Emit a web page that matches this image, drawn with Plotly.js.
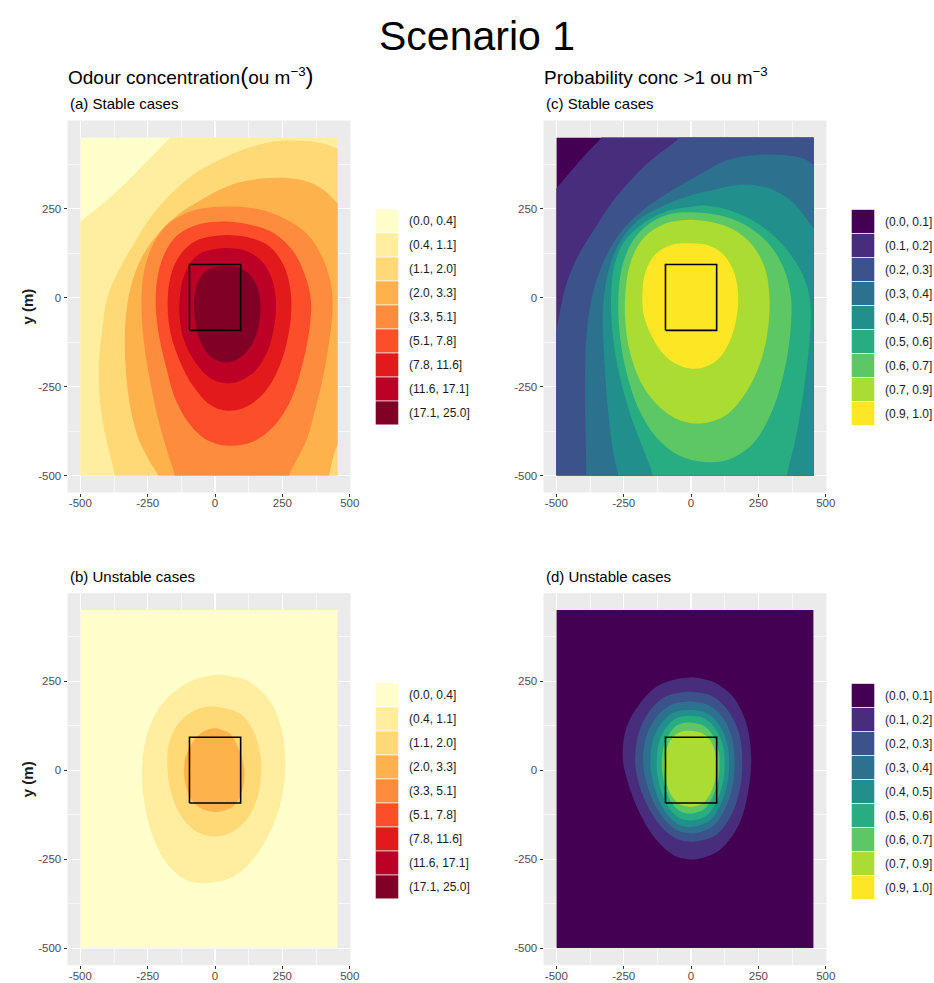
<!DOCTYPE html>
<html>
<head>
<meta charset="utf-8">
<script src="https://cdn.plot.ly/plotly-3.0.1.min.js"></script>
<style>html,body{margin:0;padding:0;background:#fff;}</style>
</head>
<body>
<div id="chart" style="width:934px;height:983px;"></div>
<script>
// ================= DATA =================
const xTicks = [-500, -250, 0, 250, 500];
const yTicks = [-500, -250, 0, 250];
const minorStart = -375, minorStep = 250;
const gridX = [-500, 455];          // extent of the modelled grid (m)
const gridY = [-500, 450];
const sourceX = [-95, 95, 95, -95, -95];   // source area outline (m)
const sourceY = [-92, -92, 93, 93, -92];

const concLabels = ['(0.0, 0.4]', '(0.4, 1.1]', '(1.1, 2.0]', '(2.0, 3.3]', '(3.3, 5.1]',
                    '(5.1, 7.8]', '(7.8, 11.6]', '(11.6, 17.1]', '(17.1, 25.0]'];
const probLabels = ['(0.0, 0.1]', '(0.1, 0.2]', '(0.2, 0.3]', '(0.3, 0.4]', '(0.4, 0.5]',
                    '(0.5, 0.6]', '(0.6, 0.7]', '(0.7, 0.9]', '(0.9, 1.0]'];
const concColors = ['#FFFFCC', '#FFEDA0', '#FED976', '#FEB24C', '#FD8D3C', '#FC4E2A', '#E31A1C', '#BD0026', '#800026'];
const probColors = ['#440154', '#472D7B', '#3B528B', '#2C728E', '#21908C', '#27AD81', '#5DC863', '#AADC32', '#FDE725'];

// (a) odour concentration, stable cases: boundary of each class (superlevel regions), m
const concStableBand = [1, 2, 3, 4, 5, 6, 7, 8];
const concStableX = [
  [-110, -168, -250, -335, -420, -500, -560, -650, -650, 620, 620, -110],
  [-365, -372, -393, -415, -430, -430, -418, -400, -360, -304, -242, -168, -82, 17, 103, 189, 263, 337, 411, 455, 520, 650, 650, -365],
  [-205, -212, -242, -285, -316, -331, -335, -326, -304, -267, -205, -131, -57, 17, 103, 189, 276, 349, 411, 455, 520, 570, 540, 490, 455, 423, 405],
  [-150, -150, -170, -205, -242, -265, -273, -262, -230, -170, -80, 40, 150, 250, 340, 400, 432, 436, 420, 399, 370, 340, 300, 275, 268],
  [40, 130, 220, 290, 335, 356, 348, 320, 280, 220, 140, 47, -30, -100, -150, -180, -205, -220, -215, -190, -140, -60],
  [40, 120, 200, 255, 280, 282, 265, 235, 190, 120, 47, -20, -80, -130, -165, -176, -165, -130, -70],
  [40, 110, 170, 210, 226, 220, 195, 150, 90, 35, -20, -75, -115, -132, -128, -105, -60],
  [30, 90, 135, 162, 168, 155, 120, 70, 20, -25, -58, -76, -76, -60, -25]
];
const concStableY = [
  [500, 450, 385, 320, 262, 213, 172, 100, -650, -650, 620, 620],
  [-560, -500, -433, -358, -264, -170, -86, 0, 73, 148, 223, 288, 345, 387, 415, 434, 441, 440, 431, 418, 395, 380, -650, -650],
  [-560, -500, -461, -395, -301, -208, -114, -21, 54, 120, 185, 237, 272, 303, 326, 335, 335, 324, 298, 265, 230, 0, -300, -390, -414, -500, -560],
  [-560, -500, -450, -360, -231, -120, 0, 80, 150, 210, 245, 256, 250, 225, 180, 110, 30, -40, -140, -231, -320, -400, -460, -500, -560],
  [214, 205, 180, 130, 60, -10, -100, -200, -290, -360, -405, -416, -400, -350, -280, -200, -120, -30, 50, 120, 175, 206],
  [176, 170, 145, 90, 20, -50, -130, -200, -260, -305, -318, -300, -250, -180, -100, -20, 60, 120, 160],
  [139, 132, 105, 55, -10, -80, -150, -205, -235, -240, -225, -180, -120, -50, 20, 80, 122],
  [88, 84, 60, 15, -40, -100, -150, -178, -180, -160, -115, -55, 5, 50, 80]
];
const concStableClosed = [false, false, false, false, true, true, true, true];

// (c) probability conc > 1, stable cases
const probStableBand = [1, 2, 3, 4, 5, 6, 7, 8];
const probStableX = [
  [-300, -334, -380, -420, -460, -500, -560, -650, -650, 620, 620, -300],
  [-20, -45, -100, -168, -230, -291, -340, -389, -425, -451, -470, -482, -492, -500, -510, -650, -650, 620, 620, -20],
  [-389, -389, -393, -393, -390, -374, -350, -310, -255, -180, -90, 30, 130, 230, 313, 412, 455, 520, 650, 650, -389],
  [-272, -272, -285, -309, -322, -328, -322, -303, -265, -200, -110, -20, 67, 190, 289, 375, 455, 520, 650, 650, -272],
  [-143, -143, -170, -220, -265, -290, -297, -285, -250, -185, -100, 0, 60, 180, 290, 375, 425, 443, 440, 420, 390, 356, 350],
  [0, 100, 200, 290, 345, 371, 368, 345, 300, 230, 140, 50, -40, -120, -190, -240, -265, -270, -258, -220, -150, -70],
  [0, 80, 160, 230, 275, 291, 285, 258, 205, 130, 45, -40, -120, -185, -228, -245, -242, -220, -170, -95],
  [-5, 60, 115, 155, 174, 172, 150, 105, 40, -30, -95, -145, -175, -181, -170, -135, -75]
];
const probStableY = [
  [500, 450, 412, 378, 342, 307, 255, 180, -650, -650, 620, 620],
  [520, 450, 415, 373, 325, 270, 215, 157, 110, 64, 20, -20, -60, -95, -140, -300, -650, -650, 620, 620],
  [-560, -494, -311, -217, -124, -20, 50, 125, 190, 245, 292, 345, 385, 400, 401, 392, 373, 340, 300, -650, -650],
  [-560, -493, -451, -311, -170, -60, 10, 85, 155, 215, 255, 282, 300, 317, 307, 270, 195, 140, 80, -650, -650],
  [-560, -500, -440, -340, -220, -110, 0, 90, 155, 205, 240, 255, 258, 235, 185, 115, 45, -20, -120, -250, -390, -500, -560],
  [240, 232, 205, 150, 80, 0, -100, -210, -320, -410, -455, -462, -445, -400, -320, -210, -100, -10, 80, 155, 210, 236],
  [219, 212, 190, 145, 80, 0, -90, -180, -265, -330, -353, -345, -305, -240, -150, -55, 30, 110, 172, 208],
  [153, 148, 125, 80, 20, -40, -110, -170, -198, -195, -165, -110, -50, 10, 70, 120, 148]
];
const probStableClosed = [false, false, false, false, false, true, true, true];

// (b) odour concentration, unstable cases
const concUnstableBand = [1, 2, 3];
const concUnstableX = [
  [4, 115, 202, 245, 261, 251, 214, 140, 66, -33, -107, -180, -236, -264, -271, -255, -205, -107],
  [-2, 91, 140, 167, 171, 158, 115, 54, -8, -70, -125, -162, -177, -168, -125, -57],
  [-2, 54, 84, 105, 109, 97, 66, 17, -33, -76, -104, -115, -109, -82, -45]
];
const concUnstableY = [
  [268, 254, 197, 122, 29, -65, -158, -252, -299, -317, -308, -261, -177, -83, 1, 94, 179, 244],
  [179, 160, 113, 48, -8, -74, -140, -177, -186, -172, -130, -65, 10, 85, 141, 174],
  [118, 104, 66, 20, -18, -65, -102, -116, -113, -93, -55, -8, 38, 80, 108]
];
const concUnstableClosed = [true, true, true];

// (d) probability conc > 1, unstable cases
const probUnstableBand = [1, 2, 3, 4, 5, 6, 7];
const probUnstableX = [
  [-7, 81, 155, 205, 223, 211, 174, 106, 38, -11, -67, -128, -190, -233, -254, -239, -190, -116],
  [-5, 75, 135, 178, 190, 182, 150, 95, 30, -10, -60, -115, -165, -198, -208, -196, -160, -95],
  [-5, 65, 118, 152, 162, 154, 125, 80, 25, -10, -55, -100, -142, -170, -178, -168, -135, -80],
  [-5, 55, 102, 133, 141, 134, 108, 68, 20, -10, -50, -90, -124, -145, -151, -143, -115, -68],
  [-5, 48, 90, 118, 125, 118, 95, 60, 18, -10, -45, -80, -108, -124, -128, -121, -98, -58],
  [-5, 42, 77, 100, 106, 100, 80, 50, 15, -10, -40, -70, -93, -106, -109, -103, -83, -50],
  [-5, 35, 67, 88, 94, 89, 72, 45, 12, -12, -40, -66, -86, -97, -100, -93, -73, -42]
];
const probUnstableY = [
  [261, 249, 207, 132, 38, -65, -158, -224, -247, -250, -238, -196, -121, -37, 38, 122, 188, 240],
  [221, 210, 170, 105, 30, -50, -125, -180, -198, -200, -190, -155, -95, -25, 30, 100, 160, 207],
  [193, 183, 148, 90, 25, -45, -110, -158, -175, -177, -168, -137, -85, -20, 28, 90, 143, 182],
  [170, 162, 130, 78, 22, -40, -98, -142, -157, -159, -151, -123, -75, -18, 25, 80, 127, 161],
  [153, 146, 117, 70, 20, -35, -87, -126, -139, -140, -133, -108, -65, -15, 22, 72, 114, 145],
  [134, 127, 103, 62, 18, -30, -75, -108, -120, -121, -115, -93, -55, -12, 20, 62, 100, 127],
  [111, 106, 88, 55, 15, -28, -65, -92, -102, -102, -96, -78, -48, -10, 20, 55, 88, 107]
];
const probUnstableClosed = [true, true, true, true, true, true, true];

// ================= LAYOUT GEOMETRY (pixels of the 934x983 page) =================
const W = 934, H = 983;
const fx = p => p / W;
const fy = p => 1 - p / H;
const xRange = [-547.75, 502.75];
const yRange = [-547.5, 497.5];
const FONT = 'Liberation Sans, Arial, Helvetica, sans-serif';

const panels = [
  {box: {L: 67.5, R: 350.5, T: 120.5, B: 492.5}, colors: concColors, labels: concLabels,
   X: concStableX, Y: concStableY, band: concStableBand, closed: concStableClosed,
   sub: '(a) Stable cases', yTitle: true, key: {x0: 375.7, y0: 209.3, tx: 406.5}},
  {box: {L: 543.5, R: 826.5, T: 120.5, B: 492.5}, colors: probColors, labels: probLabels,
   X: probStableX, Y: probStableY, band: probStableBand, closed: probStableClosed,
   sub: '(c) Stable cases', yTitle: false, key: {x0: 851.7, y0: 209.8, tx: 882.5}},
  {box: {L: 67.5, R: 350.5, T: 593.2, B: 965.2}, colors: concColors, labels: concLabels,
   X: concUnstableX, Y: concUnstableY, band: concUnstableBand, closed: concUnstableClosed,
   sub: '(b) Unstable cases', yTitle: true, key: {x0: 375.7, y0: 683.3, tx: 406.5}},
  {box: {L: 543.5, R: 826.5, T: 593.2, B: 965.2}, colors: probColors, labels: probLabels,
   X: probUnstableX, Y: probUnstableY, band: probUnstableBand, closed: probUnstableClosed,
   sub: '(d) Unstable cases', yTitle: false, key: {x0: 851.7, y0: 683.8, tx: 882.5}}
];

const traces = [];
const layout = {
  width: W, height: H,
  margin: {l: 0, r: 0, t: 0, b: 0, pad: 0},
  paper_bgcolor: '#FFFFFF',
  plot_bgcolor: '#EBEBEB',
  showlegend: false,
  font: {family: FONT, color: '#000000'},
  shapes: [],
  annotations: []
};

const id = n => (n === 1 ? '' : String(n));

panels.forEach((p, i) => {
  const nb = 2 * i + 1, nd = 2 * i + 2;
  const b = p.box;
  const axCommon = {
    tickmode: 'array', ticks: 'outside', ticklen: 3, tickwidth: 1, tickcolor: '#333333',
    tickfont: {family: FONT, size: 11.5, color: '#4D4D4D'},
    showgrid: true, gridcolor: '#FFFFFF', gridwidth: 1.2,
    minor: {tick0: minorStart, dtick: minorStep, showgrid: true, gridcolor: '#FFFFFF', gridwidth: 0.6, ticks: ''},
    zeroline: false, showline: false, fixedrange: true, automargin: false
  };
  // background (grey panel, grid, ticks)
  layout['xaxis' + id(nb)] = Object.assign({}, axCommon, {
    domain: [fx(b.L), fx(b.R)], range: xRange, anchor: 'y' + id(nb),
    tickvals: xTicks, ticktext: xTicks.map(String), ticklabelstandoff: -3
  });
  layout['yaxis' + id(nb)] = Object.assign({}, axCommon, {
    domain: [fy(b.B), fy(b.T)], range: yRange, anchor: 'x' + id(nb),
    tickvals: yTicks, ticktext: yTicks.map(String)
  });
  // empty trace so that the background subplot is created
  traces.push({
    type: 'scatter', mode: 'markers', xaxis: 'x' + id(nb), yaxis: 'y' + id(nb),
    x: [gridX[0]], y: [gridY[0]], marker: {opacity: 0, size: 1}, hoverinfo: 'skip'
  });
  // data subplot exactly over the grid extent (clips the filled regions)
  const xs = (b.R - b.L) / (xRange[1] - xRange[0]);
  const ys = (b.B - b.T) / (yRange[1] - yRange[0]);
  layout['xaxis' + id(nd)] = {
    domain: [fx(b.L + (gridX[0] - xRange[0]) * xs), fx(b.L + (gridX[1] - xRange[0]) * xs)],
    range: gridX, anchor: 'y' + id(nd), visible: false, showgrid: false, zeroline: false, fixedrange: true
  };
  layout['yaxis' + id(nd)] = {
    domain: [fy(b.B - (gridY[0] - yRange[0]) * ys), fy(b.B - (gridY[1] - yRange[0]) * ys)],
    range: gridY, anchor: 'x' + id(nd), visible: false, showgrid: false, zeroline: false, fixedrange: true
  };
  const xa = 'x' + id(nd), ya = 'y' + id(nd);
  // lowest class fills the whole grid
  traces.push({
    type: 'scatter', mode: 'lines', xaxis: xa, yaxis: ya,
    x: [gridX[0], gridX[1], gridX[1], gridX[0], gridX[0]],
    y: [gridY[0], gridY[0], gridY[1], gridY[1], gridY[0]],
    fill: 'toself', fillcolor: p.colors[0], line: {width: 0}, hoverinfo: 'skip'
  });
  // higher classes, stacked
  p.X.forEach((xsArr, k) => {
    let xx = xsArr.slice(), yy = p.Y[k].slice();
    if (p.closed[k]) { xx.push(xx[0], xx[1]); yy.push(yy[0], yy[1]); }
    traces.push({
      type: 'scatter', mode: 'lines', xaxis: xa, yaxis: ya,
      x: xx, y: yy, fill: 'toself', fillcolor: p.colors[p.band[k]],
      line: {width: 0, shape: 'spline', smoothing: 1, color: p.colors[p.band[k]]},
      hoverinfo: 'skip'
    });
  });
  // source area outline
  traces.push({
    type: 'scatter', mode: 'lines', xaxis: xa, yaxis: ya,
    x: sourceX, y: sourceY, line: {color: '#000000', width: 1.6}, hoverinfo: 'skip'
  });
  // legend keys + labels
  p.labels.forEach((lab, k) => {
    const top = p.key.y0 + k * 24;
    layout.shapes.push({
      type: 'rect', xref: 'paper', yref: 'paper',
      x0: fx(p.key.x0), x1: fx(p.key.x0 + 22.6), y0: fy(top + 23.2), y1: fy(top),
      fillcolor: p.colors[k], line: {width: 0}, layer: 'above'
    });
    layout.annotations.push({
      xref: 'paper', yref: 'paper', x: fx(p.key.tx), y: fy(top + 11.8),
      xanchor: 'left', yanchor: 'middle', showarrow: false, text: lab,
      font: {family: FONT, size: 12, color: '#1A1A1A'}
    });
  });
  // panel subtitle
  layout.annotations.push({
    xref: 'paper', yref: 'paper', x: fx(b.L), y: fy(b.T - 17), xanchor: 'left', yanchor: 'middle',
    showarrow: false, text: p.sub, font: {family: FONT, size: 15, color: '#000000'}
  });
  if (p.yTitle) {
    layout.annotations.push({
      xref: 'paper', yref: 'paper', x: fx(27), y: fy((b.T + b.B) / 2), xanchor: 'center', yanchor: 'middle',
      showarrow: false, text: '<b>y (m)</b>', textangle: -90, font: {family: FONT, size: 15, color: '#1A1A1A'}
    });
  }
});

// page title and column headers
layout.annotations.push({
  xref: 'paper', yref: 'paper', x: fx(477), y: fy(36), xanchor: 'center', yanchor: 'middle',
  showarrow: false, text: 'Scenario 1', font: {family: FONT, size: 41, color: '#000000'}
});
layout.annotations.push({
  xref: 'paper', yref: 'paper', x: fx(66), y: fy(76), xanchor: 'left', yanchor: 'middle', showarrow: false,
  text: 'Odour concentration<span style="font-size:24px">(</span>ou m<sup>−3</sup><span style="font-size:24px">)</span>',
  font: {family: FONT, size: 19, color: '#000000'}
});
layout.annotations.push({
  xref: 'paper', yref: 'paper', x: fx(542), y: fy(76), xanchor: 'left', yanchor: 'middle', showarrow: false,
  text: 'Probability conc &gt;1 ou m<sup>−3</sup>',
  font: {family: FONT, size: 19, color: '#000000'}
});

Plotly.newPlot('chart', traces, layout, {staticPlot: true});
</script>
</body>
</html>
